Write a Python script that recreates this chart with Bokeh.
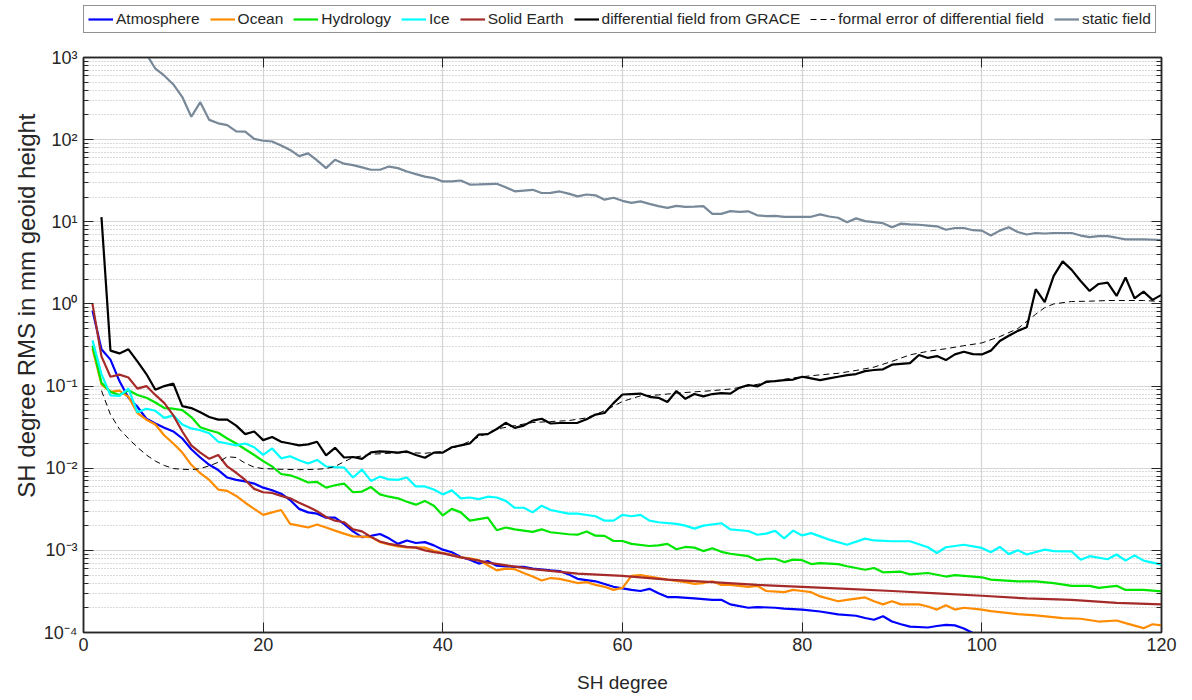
from bokeh.plotting import figure
from bokeh.models import (Range1d, LinearAxis, LogAxis, Legend, LegendItem, Title,
                          FixedTicker, LogTicker, CustomJSTickFormatter)
from bokeh.layouts import column
from bokeh.embed import file_html
from bokeh.resources import INLINE

# ---------------- data (SH degree, RMS in mm geoid height) ----------------
atm_deg = [1,2,3,4,5,6,7,8,9,10,11,12,13,14,15,16,17,18,19,20,21,22,23,24,25,26,27,28,29,30,
           31,32,33,34,35,36,37,38,39,40,41,42,43,44,45,46,47,48,49,50,52,53,54,55,57,58,59,61,62,63,
           64,65,66,68,70,71,72,74,75,77,78,80,82,84,86,87,88,89,90,91,92,94,95,96,97,98,99,100]
atm_val = [0.83,0.28,0.21,0.115,0.072,0.056,0.040,0.035,0.031,0.028,0.023,0.017,0.0135,0.011,0.0095,
           0.0077,0.0072,0.0069,0.0065,0.0058,0.0054,0.0049,0.0041,0.0032,0.0029,0.0028,0.0025,0.0025,
           0.0021,0.0017,0.00145,0.0015,0.00158,0.0014,0.0012,0.00132,0.00123,0.00126,0.00115,0.00102,
           0.00095,0.00083,0.00077,0.00069,0.00074,0.00065,0.00064,0.00063,0.00063,0.0006,0.00057,
           0.00056,0.00051,0.00045,0.00042,0.00039,0.00036,0.00033,0.00032,0.00034,0.0003,0.00027,
           0.00027,0.00026,0.00025,0.00025,0.00022,0.0002,0.000204,0.0002,0.000195,0.00019,0.00018,
           0.000166,0.00016,0.00015,0.000143,0.000158,0.000136,0.000126,0.000118,0.000115,0.00012,
           0.000124,0.000122,0.000112,0.0000985,0.000093]

ocean_deg = [1,2,3,4,5,6,7,8,9,10,11,12,13,14,15,16,17,18,19,20,21,22,23,24,25,26,27,28,29,30,
             31,32,33,34,35,36,37,38,39,40,41,42,43,44,45,46,47,48,49,50,51,52,53,55,56,57,58,59,60,61,
             62,64,65,67,68,69,70,71,72,74,75,76,78,79,80,81,82,84,85,87,88,89,90,91,93,94,95,96,97,98,
             100,101,104,106,109,111,113,115,116,118,119,120]
ocean_val = [0.285,0.105,0.085,0.088,0.074,0.047,0.039,0.034,0.025,0.020,0.0155,0.011,0.0087,0.0072,
             0.0055,0.0053,0.0046,0.0038,0.0032,0.0027,0.0029,0.0031,0.0021,0.002,0.0019,0.00206,0.0019,
             0.00174,0.0016,0.00148,0.00147,0.00145,0.00126,0.00118,0.00112,0.00109,0.00109,0.00108,
             0.00099,0.00093,0.00088,0.00082,0.0008,0.00076,0.00066,0.00057,0.0006,0.00059,0.00053,
             0.00048,0.00043,0.00046,0.00045,0.0004,0.00041,0.00038,0.00036,0.00033,0.00035,0.00049,
             0.0005,0.00046,0.00044,0.00041,0.00039,0.0004,0.00042,0.00038,0.00038,0.00036,0.00037,
             0.00032,0.00031,0.00033,0.00032,0.00031,0.000275,0.00024,0.00025,0.000267,0.00024,0.00022,
             0.00024,0.00022,0.00022,0.000207,0.00019,0.000214,0.00019,0.0002,0.00019,0.000182,0.000167,
             0.000162,0.00015,0.000147,0.000136,0.00014,0.00013,0.000113,0.000126,0.000122]

hydro_deg = [1,2,3,4,5,6,7,8,9,10,11,12,13,14,15,16,17,18,19,20,21,22,23,24,25,26,27,28,29,30,
             31,32,33,34,35,36,37,38,39,40,41,42,43,44,45,46,47,48,50,51,52,54,55,56,57,58,59,60,61,63,
             64,65,66,67,68,69,70,71,72,74,75,76,77,78,79,80,81,82,84,85,87,88,89,91,92,94,96,97,99,100,
             101,104,106,108,110,112,113,115,116,118,120]
hydro_val = [0.31,0.11,0.085,0.078,0.089,0.078,0.072,0.063,0.054,0.053,0.051,0.042,0.0316,0.029,0.027,
             0.023,0.02,0.017,0.0145,0.0122,0.0105,0.0085,0.0082,0.0075,0.0067,0.0068,0.0058,0.0062,
             0.0065,0.0051,0.0052,0.0059,0.0048,0.0045,0.0043,0.0039,0.0036,0.004,0.0035,0.00266,0.0032,
             0.0029,0.0023,0.0024,0.0025,0.00176,0.0019,0.0018,0.00168,0.0018,0.00166,0.00157,0.00155,
             0.0017,0.00151,0.0015,0.0013,0.0013,0.0012,0.00113,0.00115,0.0012,0.00103,0.0011,0.00108,
             0.00098,0.00106,0.00096,0.00091,0.00085,0.00076,0.00079,0.00079,0.00072,0.00077,0.00076,
             0.00068,0.0007,0.00068,0.00064,0.00058,0.00061,0.00054,0.00055,0.00051,0.00053,0.00048,
             0.0005,0.00048,0.00047,0.00044,0.00042,0.00042,0.0004,0.00037,0.00037,0.00035,0.00037,
             0.00033,0.00033,0.000316]

ice_deg = [1,2,3,4,5,6,7,8,9,10,11,12,13,14,15,16,17,18,19,20,21,22,23,24,25,26,27,28,29,30,
           31,32,33,34,35,36,37,38,39,40,41,42,43,44,45,46,47,48,49,50,51,52,54,55,57,58,59,60,61,62,
           63,64,66,67,68,69,71,72,74,75,76,77,78,79,80,81,83,85,87,88,90,92,94,95,96,98,100,101,102,103,
           104,105,107,108,110,111,112,114,115,116,117,118,120]
ice_val = [0.36,0.14,0.077,0.076,0.093,0.048,0.053,0.05,0.041,0.044,0.034,0.0305,0.029,0.0266,0.021,
           0.02,0.019,0.02,0.018,0.0145,0.0174,0.0132,0.014,0.0125,0.0114,0.0126,0.0105,0.0103,0.0102,
           0.0077,0.0096,0.007,0.0079,0.0073,0.0072,0.0077,0.006,0.006,0.0055,0.0048,0.0054,0.0043,
           0.0044,0.0042,0.0045,0.0044,0.004,0.0033,0.0033,0.0029,0.0035,0.0031,0.0028,0.0028,0.0026,
           0.0023,0.0023,0.0027,0.0026,0.0027,0.0023,0.0022,0.0021,0.002,0.00184,0.002,0.00214,0.0018,
           0.00172,0.00155,0.0016,0.00173,0.0014,0.00174,0.00152,0.00162,0.00135,0.00117,0.00139,
           0.00132,0.00129,0.00129,0.00109,0.00093,0.00109,0.00117,0.00107,0.00095,0.0011,0.0009,0.001,
           0.00089,0.00102,0.00098,0.00097,0.00077,0.00085,0.00078,0.00089,0.00075,0.00087,0.00075,
           0.00067]

solid_deg = [1,2,3,4,5,6,7,8,9,10,11,12,13,14,15,16,17,18,19,20,21,22,23,24,25,26,27,28,29,30,
             31,32,33,34,35,36,37,38,39,40,42,44,45,50,55,60,65,70,75,80,85,90,95,100,105,110,115,120]
solid_val = [1.0,0.23,0.13,0.138,0.127,0.093,0.1,0.078,0.062,0.044,0.028,0.019,0.0155,0.013,0.0145,
             0.0105,0.0088,0.0072,0.0056,0.0051,0.005,0.0046,0.0043,0.0038,0.0034,0.003,0.00255,0.0023,
             0.0022,0.0018,0.0017,0.00146,0.00128,0.0012,0.00115,0.0011,0.00108,0.001,0.00095,0.00092,
             0.00082,0.00075,0.00071,0.00059,0.00052,0.00049,0.00044,0.00041,0.00038,0.00036,0.00034,
             0.00032,0.0003,0.00028,0.00026,0.00025,0.00023,0.00022]

grace_deg = list(range(2, 121))
grace_val = [11.4,0.27,0.25,0.28,0.2,0.14,0.09,0.1,0.107,0.057,0.054,0.048,0.042,0.039,0.039,0.033,
             0.026,0.028,0.022,0.024,0.021,0.02,0.019,0.0195,0.021,0.0143,0.0177,0.0135,0.0137,0.013,
             0.0156,0.016,0.0158,0.0155,0.016,0.0145,0.0134,0.0155,0.0155,0.018,0.019,0.02,0.0257,0.026,
             0.03,0.0357,0.031,0.033,0.038,0.04,0.035,0.0355,0.0355,0.0357,0.0395,0.045,0.047,0.062,
             0.079,0.08,0.081,0.074,0.072,0.064,0.087,0.07,0.08,0.075,0.08,0.082,0.081,0.095,0.103,
             0.099,0.113,0.115,0.118,0.12,0.13,0.124,0.118,0.124,0.13,0.136,0.14,0.152,0.157,0.16,
             0.182,0.186,0.19,0.239,0.22,0.232,0.207,0.243,0.262,0.245,0.243,0.27,0.354,0.41,0.47,
             0.52,1.51,1.05,2.2,3.3,2.6,1.9,1.44,1.75,1.82,1.25,2.1,1.17,1.41,1.12,1.29]

ferr_deg = [2,3,4,5,6,7,8,9,10,11,12,13,14,15,16,17,18,19,20,22,24,26,27,28,29,30,32,34,36,38,40,
            42,44,46,48,50,52,54,56,58,60,62,64,66,68,70,72,74,76,78,80,82,84,86,88,90,92,94,96,98,100,
            102,104,106,107,108,110,112,114,116,118,120]
ferr_val = [0.088,0.045,0.030,0.023,0.018,0.0145,0.0122,0.0108,0.0099,0.0097,0.0096,0.0099,0.0107,
            0.0118,0.0138,0.0135,0.0115,0.0103,0.0099,0.0097,0.0096,0.0097,0.0099,0.0105,0.012,0.0135,
            0.0148,0.0152,0.0155,0.0152,0.016,0.019,0.024,0.03,0.033,0.036,0.037,0.038,0.041,0.05,
            0.065,0.076,0.078,0.082,0.085,0.088,0.092,0.1,0.11,0.121,0.13,0.137,0.143,0.155,0.17,0.2,
            0.24,0.265,0.285,0.31,0.335,0.4,0.5,0.75,0.9,1.0,1.07,1.08,1.1,1.1,1.1,1.07]

static_deg = [7,8,9,10,11,12,13,14,15,16,17,18,19,20,21,22,23,24,25,26,27,28,29,30,31,32,33,34,35,
              36,37,38,39,40,41,42,43,44,45,46,47,48,49,50,51,52,53,54,55,56,57,58,59,60,61,62,63,64,
              65,66,67,68,69,70,71,72,73,74,75,76,77,78,80,81,82,83,84,85,86,87,88,89,90,91,92,93,94,
              95,96,97,98,99,100,101,102,103,104,105,106,107,108,110,111,112,113,114,115,116,118,120]
static_val = [1100,730,600,470,330,190,286,174,158,150,126,125,102,97,95,85,75,63,68,56,45,57,51,49,
              46,43,43,47,45,41,38,35.5,34,31,31,31.8,28.4,28.5,28.8,29,26.3,23.5,24,24.5,22.4,22.5,
              23.4,22,20.4,21.5,21,18.6,19.6,18,17,17.7,16.5,15.5,14.8,15.6,15.2,15.3,15.5,12.5,12.5,
              13.5,13.2,13.4,12,11.7,11.8,11.5,11.5,11.5,12.3,11.6,11.2,9.9,11,10.2,9.9,9.6,8.6,9.5,
              9.3,9.2,9.0,8.8,8.0,8.4,8.4,7.9,7.8,6.8,7.8,8.6,7.5,7.0,7.3,7.2,7.3,7.3,6.8,6.5,6.7,6.7,
              6.4,6.1,6.1,6.0]

series_names = ["Atmosphere", "Ocean", "Hydrology", "Ice", "Solid Earth",
                "differential field from GRACE", "formal error of differential field", "static field"]
x_ticks = [0, 20, 40, 60, 80, 100, 120]
y_tick_labels = {1e-4: "10⁻⁴", 1e-3: "10⁻³", 1e-2: "10⁻²", 1e-1: "10⁻¹",
                 1e0: "10⁰", 1e1: "10¹", 1e2: "10²", 1e3: "10³"}

FONT = "Liberation Sans"
AX = "#262626"
LEG_H = 40

p = figure(width=1192, height=700 - LEG_H, y_axis_type="log", output_backend="svg",
           toolbar_location=None, x_range=Range1d(0, 120), y_range=Range1d(1e-4, 1e3),
           min_border_left=83, min_border_right=31, min_border_top=57 - LEG_H, min_border_bottom=68)
p.outline_line_color = AX
p.outline_line_width = 1.5
p.background_fill_color = "white"
p.border_fill_color = "white"

# grids
p.xgrid.ticker = FixedTicker(ticks=x_ticks)
p.xgrid.grid_line_color = "#d6d6d6"
p.xgrid.grid_line_width = 1.2
p.ygrid.ticker = LogTicker(num_minor_ticks=10)
p.ygrid.grid_line_color = "#d6d6d6"
p.ygrid.grid_line_width = 1.2
p.ygrid.minor_grid_line_color = "#b4b4b4"
p.ygrid.minor_grid_line_dash = "1 2"
p.ygrid.minor_grid_line_width = 1

def style_axis(ax, size="17px"):
    ax.axis_line_color = AX
    ax.axis_line_width = 1.5
    ax.major_tick_line_color = AX
    ax.minor_tick_line_color = AX
    ax.major_tick_in = 10
    ax.major_tick_out = 0
    ax.minor_tick_in = 5
    ax.minor_tick_out = 0
    ax.major_label_text_font = FONT
    ax.major_label_text_color = AX
    ax.major_label_text_font_size = size
    ax.axis_label_text_font = FONT
    ax.axis_label_text_color = AX
    ax.axis_label_text_font_style = "normal"

xa = p.xaxis[0]
xa.ticker = FixedTicker(ticks=x_ticks)
xa.axis_label = "SH degree"
style_axis(xa, "18px")
xa.axis_label_text_font_size = "19px"
xa.major_label_standoff = 5
xa.axis_label_standoff = 18

ya = p.yaxis[0]
ya.ticker = LogTicker(num_minor_ticks=10)
ya.major_label_overrides = y_tick_labels
style_axis(ya, "18px")
ya.major_label_standoff = 6

ylab = Title(text="SH degree RMS in mm geoid height", align="right", offset=56,
             text_font=FONT, text_font_size="24px", text_font_style="normal",
             text_color=AX, standoff=2)
p.add_layout(ylab, "left")

blank = CustomJSTickFormatter(code="return ' '")
top = LinearAxis(ticker=FixedTicker(ticks=x_ticks), formatter=blank)
style_axis(top, "8px")
top.major_label_standoff = 0
p.add_layout(top, "above")
right = LogAxis(ticker=LogTicker(num_minor_ticks=10), formatter=blank)
style_axis(right, "8px")
right.major_label_standoff = 0
p.add_layout(right, "right")

styles = [dict(line_color="#0000ff", line_width=2.2),
          dict(line_color="#ff8c00", line_width=2.2),
          dict(line_color="#00e600", line_width=2.2),
          dict(line_color="#00ffff", line_width=2.2),
          dict(line_color="#a52a2a", line_width=2.2),
          dict(line_color="black", line_width=2.2),
          dict(line_color="black", line_width=1, line_dash="6 4"),
          dict(line_color="#778899", line_width=2.2)]
data = [(atm_deg, atm_val), (ocean_deg, ocean_val), (hydro_deg, hydro_val), (ice_deg, ice_val),
        (solid_deg, solid_val), (grace_deg, grace_val), (ferr_deg, ferr_val),
        (static_deg, static_val)]
for (xs, ys), st in zip(data, styles):
    p.line(xs, ys, **st)

# ---- legend strip (separate figure above the plot) ----
nan = float("nan")
lg = figure(width=1192, height=LEG_H, output_backend="svg", toolbar_location=None,
            x_range=Range1d(0, 1), y_range=Range1d(0, 1),
            x_axis_location=None, y_axis_location=None,
            min_border_left=0, min_border_right=0, min_border_top=0, min_border_bottom=0)
lg.grid.visible = False
lg.outline_line_color = None
lg.background_fill_color = "white"
lg.border_fill_color = "white"
items = []
for name, st in zip(series_names, styles):
    r = lg.line([nan, nan], [nan, nan], **st)
    items.append(LegendItem(label=name, renderers=[r]))
legend = Legend(items=items, orientation="horizontal", location=(0, 7))
legend.label_text_font = FONT
legend.label_text_font_size = "15.5px"
legend.label_text_color = AX
legend.glyph_width = 25
legend.glyph_height = 18
legend.label_standoff = 3
legend.spacing = 10
legend.padding = 4
legend.margin = 0
legend.label_height = 18
legend.border_line_color = AX
legend.border_line_width = 1.5
legend.background_fill_alpha = 1
lg.add_layout(legend, "center")

layout = column(lg, p, spacing=0)
open("out.html", "w").write(file_html(layout, INLINE))
